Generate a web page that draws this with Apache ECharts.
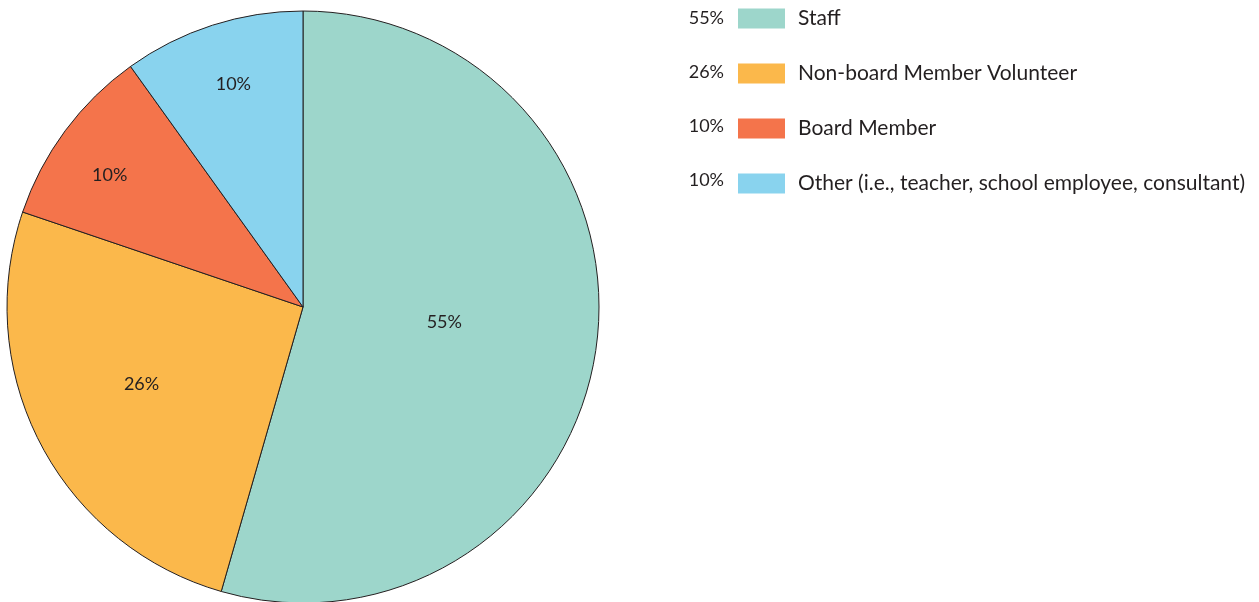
<!DOCTYPE html>
<html>
<head>
<meta charset="utf-8">
<style>
  html, body { margin: 0; padding: 0; background: #fff; }
  #chart { width: 1259px; height: 602px; }
</style>
<script src="https://cdn.jsdelivr.net/npm/echarts@6/dist/echarts.min.js"></script>
</head>
<body>
<div id="chart"></div>
<script>
// 数据
const categories = ['Staff', 'Non-board Member Volunteer', 'Board Member', 'Other (i.e., teacher, school employee, consultant)'];
const values = [55, 26, 10, 10];
const colors = ['#9dd6cb', '#fbb84b', '#f4744b', '#89d3ee'];
// 标签离圆心的距离（半径比例）和角度微调（度）
const labelDist = [0.47, 0.595, 0.78, 0.78];
const labelTurn = [-2, 2, -2.3, 0.5];

const center = [303, 307];
const radius = 296;
const textColor = '#231f20';
const font = 'Lato, "Noto Sans", sans-serif';

const chart = echarts.init(document.getElementById('chart'));

const total = values.reduce((a, b) => a + b, 0);
let acc = 0;
const pieData = values.map((v, i) => {
  const midDeg = (acc + v / 2) / total * 360; // 从12点顺时针
  acc += v;
  const mid = midDeg * Math.PI / 180;
  const want = (midDeg + labelTurn[i]) * Math.PI / 180;
  const r = labelDist[i] * radius;
  const r0 = radius / 2; // inside 标签默认在 r/2
  return {
    name: categories[i],
    value: v,
    itemStyle: { color: colors[i] },
    label: {
      offset: [r * Math.sin(want) - r0 * Math.sin(mid), -r * Math.cos(want) + r0 * Math.cos(mid)]
    }
  };
});

const rowTop = 8, rowGap = 54, iconH = 20;

const option = {
  animation: false,
  legend: {
    orient: 'vertical',
    left: 738,
    top: rowTop,
    padding: 0,
    itemWidth: 47,
    itemHeight: iconH,
    itemGap: rowGap - iconH,
    icon: 'rect',
    selectedMode: false,
    itemStyle: { borderWidth: 0 },
    textStyle: { color: textColor, fontSize: 21, lineHeight: iconH, fontFamily: font, padding: [0, 0, 0, 8] },
    data: categories
  },
  graphic: values.map((v, i) => ({
    type: 'text',
    style: {
      x: 724,
      y: rowTop + i * rowGap + iconH / 2,
      text: v + '%',
      fill: textColor,
      font: '18px ' + font,
      align: 'right',
      verticalAlign: 'middle'
    }
  })),
  series: [{
    type: 'pie',
    center: center,
    radius: radius,
    startAngle: 90,
    clockwise: true,
    silent: true,
    itemStyle: { borderColor: textColor, borderWidth: 1 },
    label: {
      position: 'inside',
      formatter: '{c}%',
      color: textColor,
      fontSize: 18,
      fontFamily: font
    },
    labelLine: { show: false },
    data: pieData
  }]
};

chart.setOption(option);
</script>
</body>
</html>
